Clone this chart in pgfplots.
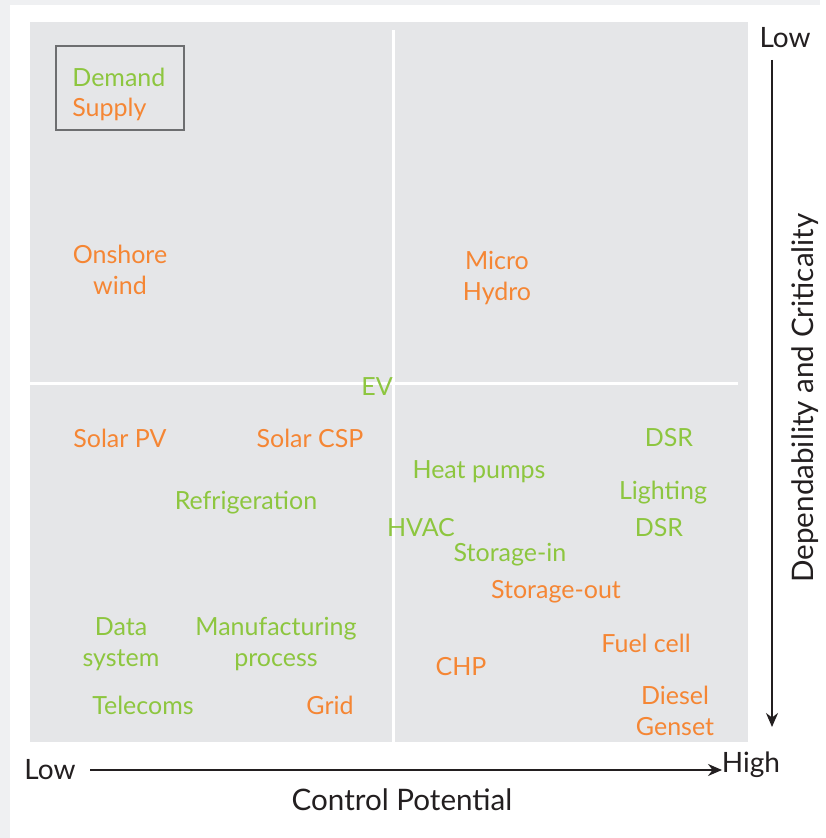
\documentclass[border=0pt]{standalone}
\usepackage{fontspec}
\setmainfont{Lato}
\usepackage{pgfplots}
\pgfplotsset{compat=1.18}
\usetikzlibrary{arrows.meta}

\definecolor{supply}{HTML}{F58634}
\definecolor{demand}{HTML}{8DC63F}
\definecolor{panel}{HTML}{E5E6E8}
\definecolor{outer}{HTML}{EFF0F2}
\definecolor{ink}{HTML}{231F20}
\definecolor{boxline}{HTML}{6D6E70}

\begin{document}
\begin{tikzpicture}
\begin{axis}[
    scale only axis,
    width=359pt, height=360pt,
    xmin=0, xmax=718, ymin=0, ymax=720,
    hide axis,
    clip=false,
    font=\fontsize{12.5}{15}\selectfont,
    nodes near coords,
    point meta=explicit symbolic,
    nodes near coords style={anchor=center, align=center,
        font=\fontsize{12.5}{15.5}\selectfont},
]
% page and panel background
\fill[outer] (axis cs:-30,-96) rectangle (axis cs:790,742);
\fill[white] (axis cs:-20,-96) rectangle (axis cs:790,737);
\fill[panel] (axis cs:0,0) rectangle (axis cs:718,720);
% quadrant lines
\draw[white, line width=1.5pt] (axis cs:363,0) -- (axis cs:363,712);
\draw[white, line width=1.5pt] (axis cs:0,358) -- (axis cs:708,358);

% demand
\addplot[only marks, mark=none, nodes near coords style={text=demand}] coordinates {
    (347,355) [EV]
    (639,304) [DSR]
    (449,270) [Heat pumps]
    (216,239) [Refrigeration]
    (633,249) [Lighting]
    (391,214) [HVAC]
    (629,214) [DSR]
    (480,187) [Storage-in]
    (91,98)   [Data\\system]
    (246,98)  [Manufacturing\\process]
    (113,37)  [Telecoms]
};
% supply
\addplot[only marks, mark=none, nodes near coords style={text=supply}] coordinates {
    (90,472)  [Onshore\\wind]
    (467,464) [Micro\\Hydro]
    (90,304)  [Solar PV]
    (280,304) [Solar CSP]
    (526,150) [Storage-out]
    (616,99)  [Fuel cell]
    (431,75)  [CHP]
    (300,37)  [Grid]
    (645,31)  [Diesel\\Genset]
};

% key
\draw[boxline, line width=1pt] (axis cs:26,612) rectangle (axis cs:154,696);
\node[anchor=west, text=demand, inner sep=0pt] at (axis cs:42,665) {Demand};
\node[anchor=west, text=supply, inner sep=0pt] at (axis cs:42,633) {Supply};

% axis arrows and labels
\draw[ink, line width=0.8pt, -{Stealth[length=7pt, width=6pt]}] (axis cs:60,-28) -- (axis cs:692,-28);
\draw[ink, line width=0.8pt, -{Stealth[length=7pt, width=6pt]}] (axis cs:742,682) -- (axis cs:742,15);
\node[text=ink, font=\fontsize{14}{16}\selectfont] at (axis cs:20,-28) {Low};
\node[text=ink, font=\fontsize{14}{16}\selectfont] at (axis cs:721,-23) {High};
\node[text=ink, font=\fontsize{14}{16}\selectfont] at (axis cs:755,704) {Low};
\node[text=ink, font=\fontsize{14.8}{17}\selectfont] at (axis cs:372,-58) {Control Potential};
\node[text=ink, rotate=90, font=\fontsize{14.8}{17}\selectfont] at (axis cs:775,344) {Dependability and Criticality};
\end{axis}
\end{tikzpicture}
\end{document}
